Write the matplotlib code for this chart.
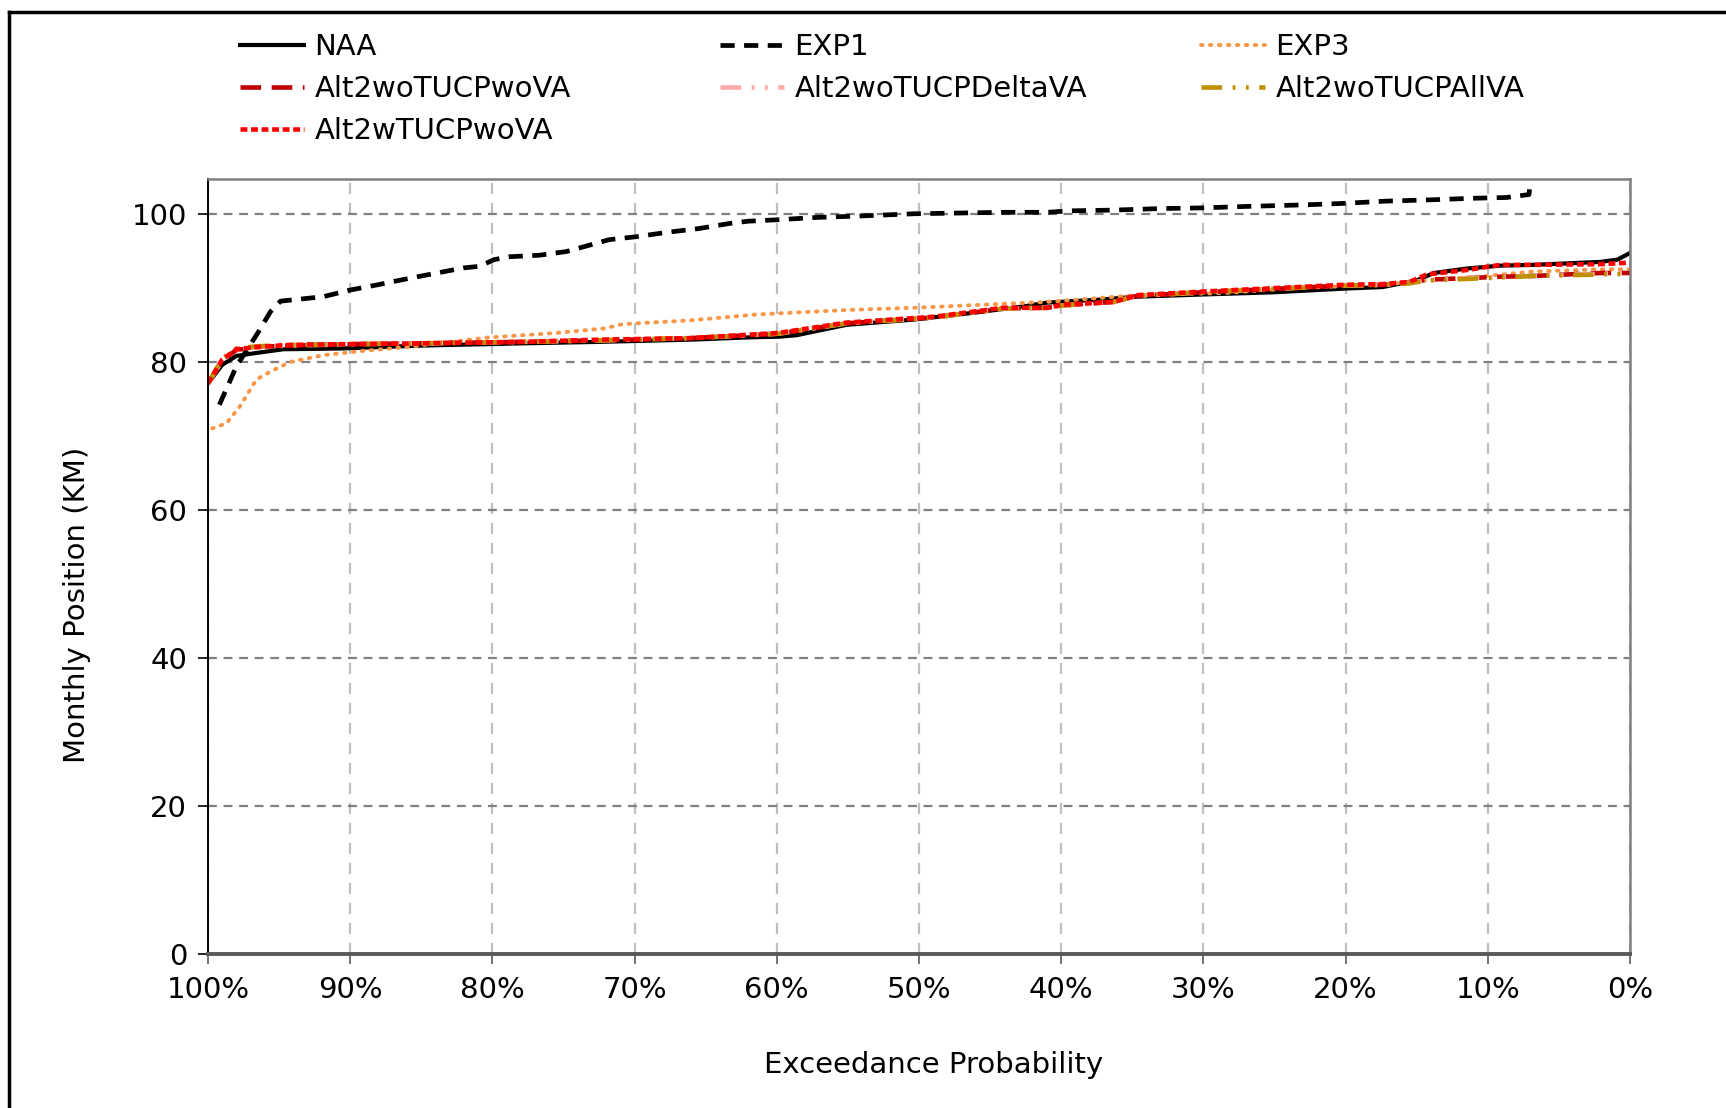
import matplotlib
matplotlib.use("Agg")
import matplotlib.pyplot as plt
from matplotlib.lines import Line2D

plt.rcParams['font.family'] = ['DejaVu Sans']

# exceedance probability (%) and monthly position (km)
naa_x = [100, 99, 98, 96.6, 94.7, 90.7, 84.9, 77.8, 72.4, 66, 62, 59.8, 58.6, 55.1, 50.4,
         46.3, 42.6, 41, 37.3, 34.7, 30, 25, 20, 17.4, 15, 13.8, 11.5, 9.1, 6.8, 2.1, 0.9, 0]
naa_y = [77.1, 79.6, 80.8, 81.2, 81.7, 81.8, 82.2, 82.5, 82.7, 83.0, 83.3, 83.4, 83.6, 85.0, 85.7,
         86.6, 87.5, 88.0, 88.4, 88.8, 89.1, 89.4, 89.9, 90.1, 91.0, 92.0, 92.6, 93.0, 93.1, 93.5, 93.8, 94.7]

exp1_x = [99.2, 98.0, 96.5, 95.6, 94.9, 91.9, 90.0, 88.1, 85.8, 83.9, 82.0, 80.9, 79.9, 78.8, 76.7,
          74.8, 73.1, 71.8, 69.9, 67.7, 65.5, 63.3, 62.0, 59.9, 57.3, 54.2, 50.4, 47.3, 44.1, 41.0,
          39.4, 36.3, 33.1, 30.0, 26.9, 23.0, 20.2, 17.3, 13.8, 11.0, 8.7, 7.1, 6.9]
exp1_y = [74.2, 79.4, 83.9, 86.8, 88.2, 88.8, 89.7, 90.4, 91.3, 92.0, 92.7, 92.9, 93.8, 94.2, 94.4,
          94.9, 95.8, 96.5, 96.9, 97.5, 98.0, 98.7, 99.0, 99.2, 99.5, 99.7, 100.0, 100.1, 100.2, 100.2,
          100.4, 100.5, 100.7, 100.8, 101.0, 101.2, 101.4, 101.7, 101.9, 102.1, 102.2, 102.6, 107.0]

exp3_x = [99.7, 98.7, 97.75, 96.6, 95.6, 94.2, 91.9, 89.5, 86.0, 82.5, 80.2, 75.5, 72.2, 70.8, 66.1,
          61.4, 55.1, 50.4, 45.7, 41.0, 34.7, 28.4, 23.4, 17.4, 14.3, 10.1, 6.8, 2.1, 0]
exp3_y = [71.0, 71.7, 74.0, 77.6, 78.7, 80.0, 80.9, 81.4, 82.0, 82.8, 83.3, 83.9, 84.5, 85.1, 85.6,
          86.4, 87.0, 87.3, 87.7, 88.1, 89.0, 89.3, 90.0, 90.4, 91.0, 91.6, 92.2, 92.5, 92.5]

alt_x = [100, 99, 98, 96.6, 94.2, 89.5, 84.9, 77.8, 72.4, 66.1, 59.9, 55.1, 48.9, 44.1, 41.0,
         40.0, 36.3, 34.7, 30.0, 23.4, 20.2, 17.4, 15.5, 14.3, 11.5, 9.1, 6.8, 2.1, 0]
wotucp_wova_y = [77.1, 80.2, 81.6, 82.0, 82.2, 82.4, 82.5, 82.7, 82.9, 83.2, 83.8, 85.2, 86.0, 87.2, 87.3,
                 87.6, 88.1, 88.9, 89.4, 90.0, 90.3, 90.4, 90.7, 91.1, 91.3, 91.5, 91.6, 92.0, 92.0]
wotucp_delta_y = [77.1, 80.2, 81.6, 82.0, 82.2, 82.4, 82.5, 82.7, 82.9, 83.2, 83.8, 85.2, 86.0, 87.2, 87.3,
                  87.6, 88.1, 88.9, 89.4, 90.0, 90.3, 90.4, 90.7, 91.0, 91.3, 91.5, 91.6, 91.9, 92.0]
wotucp_all_y = [77.1, 80.4, 81.8, 82.1, 82.3, 82.4, 82.5, 82.7, 82.9, 83.2, 83.8, 85.2, 86.0, 87.2, 87.3,
                87.6, 88.1, 88.9, 89.4, 90.0, 90.3, 90.4, 90.6, 91.0, 91.2, 91.4, 91.6, 91.8, 91.9]
wtucp_wova_y = [77.1, 80.3, 81.7, 82.0, 82.3, 82.4, 82.5, 82.7, 83.0, 83.2, 83.9, 85.3, 86.1, 87.3, 87.3,
                87.7, 88.1, 89.0, 89.5, 90.1, 90.4, 90.5, 90.8, 91.8, 92.4, 93.1, 93.1, 93.2, 93.4]

x_ticks = [100, 90, 80, 70, 60, 50, 40, 30, 20, 10, 0]
x_tick_labels = [f"{t}%" for t in x_ticks]
y_ticks = [0, 20, 40, 60, 80, 100]

FS = 21
W, H = 1726, 1108
fig = plt.figure(figsize=(W / 100, H / 100), dpi=100)
ax = fig.add_axes([208 / W, 1 - 954 / H, 1422 / W, 775 / H])

series = [
    (naa_x, naa_y, 'NAA', dict(color='black', lw=3.0, ls='-')),
    (exp1_x, exp1_y, 'EXP1', dict(color='black', lw=3.4, dashes=(3.0, 2.0))),
    (exp3_x, exp3_y, 'EXP3', dict(color='#F79646', lw=2.8, dashes=(0.4, 1.9), dash_capstyle='round')),
    (alt_x, wotucp_wova_y, 'Alt2woTUCPwoVA', dict(color='#C00000', lw=3.3, dashes=(4.5, 2.3))),
    (alt_x, wotucp_delta_y, 'Alt2woTUCPDeltaVA', dict(color='#FFAAAA', lw=3.3, dashes=(4.5, 2.3, 0.6, 2.3, 0.6, 2.3))),
    (alt_x, wotucp_all_y, 'Alt2woTUCPAllVA', dict(color='#BF9000', lw=3.3, dashes=(4.5, 2.3, 0.6, 2.3, 0.6, 2.3))),
    (alt_x, wtucp_wova_y, 'Alt2wTUCPwoVA', dict(color='#FF0000', lw=3.3, dashes=(1.5, 0.8))),
]

handles = {}
for xs, ys, label, style in series:
    line, = ax.plot(xs, ys, label=label, **style)
    handles[label] = line

ax.set_xlim(100, 0)
ax.set_ylim(0, 104.7)
ax.set_xticks(x_ticks)
ax.set_xticklabels(x_tick_labels)
ax.set_yticks(y_ticks)

ax.yaxis.grid(True, color='#808080', lw=1.6, dashes=(4, 3))
ax.xaxis.grid(True, color='#BFBFBF', lw=1.6, dashes=(5, 4))
ax.set_axisbelow(True)

ax.spines['left'].set_color('black')
ax.spines['left'].set_linewidth(1.4)
ax.spines['bottom'].set_color('#595959')
ax.spines['bottom'].set_linewidth(2.8)
for side in ('top', 'right'):
    ax.spines[side].set_color('#808080')
    ax.spines[side].set_linewidth(1.8)

ax.tick_params(axis='y', direction='out', length=7, width=1.2, pad=8, labelsize=FS)
ax.tick_params(axis='x', direction='out', length=7, width=1.2, color='#595959', pad=9, labelsize=FS)

ax.set_ylabel('Monthly Position (KM)', fontsize=FS)
ax.yaxis.set_label_coords(-0.092, 0.45)
ax.set_xlabel('Exceedance Probability', fontsize=FS)
ax.xaxis.set_label_coords(0.51, -0.143)
ax.xaxis.label.set_va('center')
ax.yaxis.label.set_va('center')

# legend laid out row by row, three columns
columns = [
    ['NAA', 'Alt2woTUCPwoVA', 'Alt2wTUCPwoVA'],
    ['EXP1', 'Alt2woTUCPDeltaVA'],
    ['EXP3', 'Alt2woTUCPAllVA'],
]
col_left = [240, 720, 1201]
for names, left in zip(columns, col_left):
    fig.legend(handles=[handles[n] for n in names], loc='upper left',
               bbox_to_anchor=(left / W, 1 - 33 / H), frameon=False, fontsize=FS,
               handlelength=2.2, handletextpad=0.35, labelspacing=0.48, borderpad=0,
               borderaxespad=0)

# page border (top and left edges only, as in the screenshot)
fig.add_artist(Line2D([9 / W, 1], [1 - 12 / H, 1 - 12 / H], color='black', lw=2.5,
                      transform=fig.transFigure))
fig.add_artist(Line2D([9 / W, 9 / W], [0, 1 - 12 / H], color='black', lw=2.5,
                      transform=fig.transFigure))

fig.savefig('out.png', dpi=100)
